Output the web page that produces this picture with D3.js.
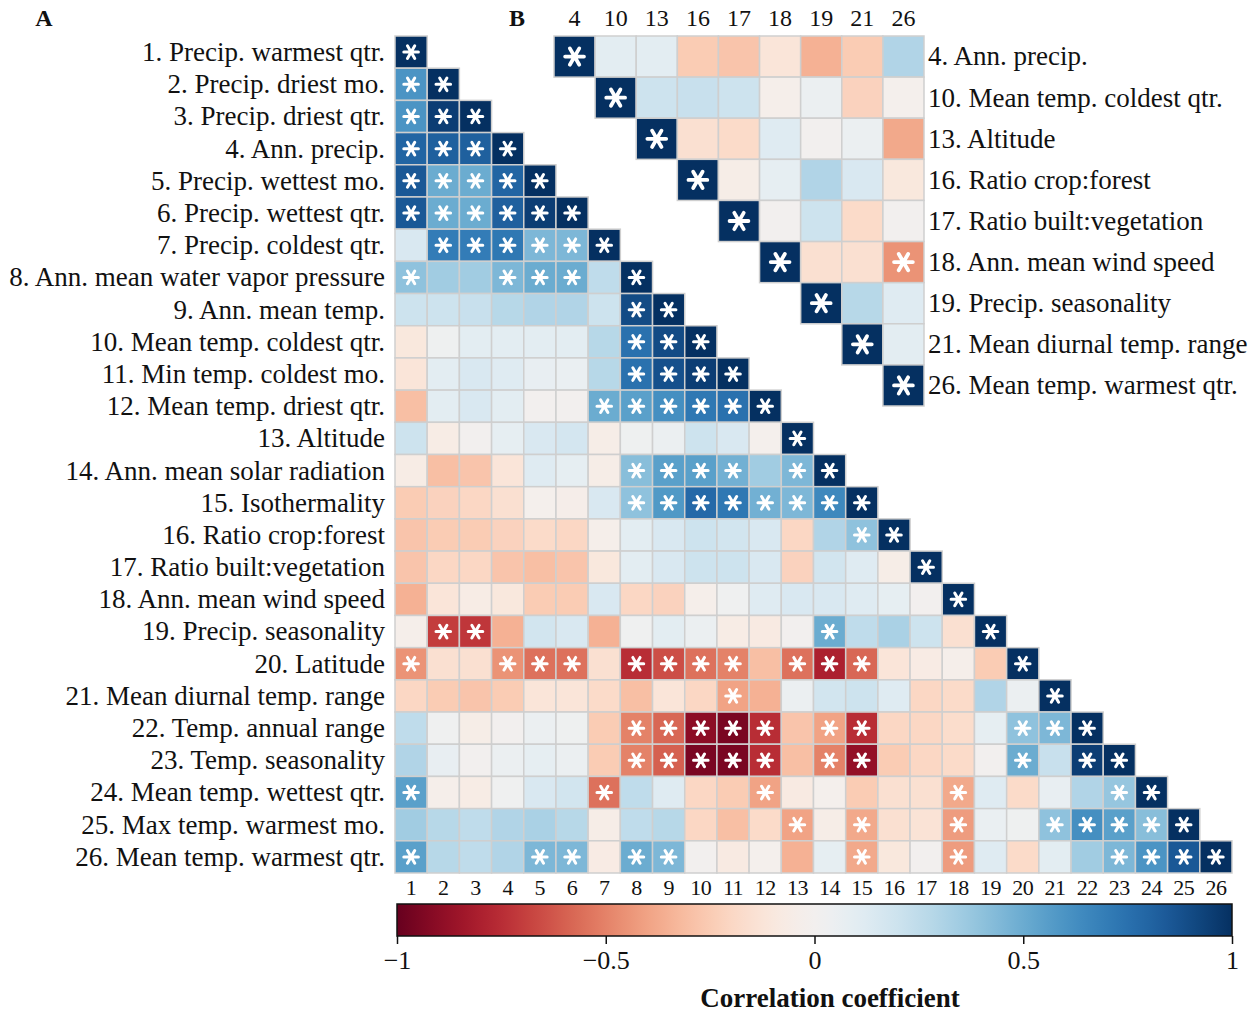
<!DOCTYPE html>
<html>
<head>
<meta charset="utf-8">
<title>Correlation heatmap</title>
<script src="https://cdnjs.cloudflare.com/ajax/libs/d3/7.8.5/d3.min.js"></script>
<style>
    body { margin: 0; background: #fff; }
    text { font-family: "Liberation Serif", "DejaVu Serif", serif; fill: #111; }
    .star { fill: none; stroke: #fff; stroke-linecap: round; }
    .cell { stroke: #cfcfcf; stroke-width: 1.5px; }
</style>
</head>
<body>
<svg id="chart"></svg>
<script>
    const width = 1256;
    const height = 1017;

    // variable names, panel A (1..26)
    const varNames = [
        "Precip. warmest qtr.", "Precip. driest mo.", "Precip. driest qtr.", "Ann. precip.",
        "Precip. wettest mo.", "Precip. wettest qtr.", "Precip. coldest qtr.",
        "Ann. mean water vapor pressure", "Ann. mean temp.", "Mean temp. coldest qtr.",
        "Min temp. coldest mo.", "Mean temp. driest qtr.", "Altitude", "Ann. mean solar radiation",
        "Isothermality", "Ratio crop:forest", "Ratio built:vegetation", "Ann. mean wind speed",
        "Precip. seasonality", "Latitude", "Mean diurnal temp. range", "Temp. annual range",
        "Temp. seasonality", "Mean temp. wettest qtr.", "Max temp. warmest mo.", "Mean temp. warmest qtr."
    ];

    // lower triangle of panel A, row r holds columns 1..r-1 (diagonal = 1)
    const corrA = [
        [],
        [0.6],
        [0.6, 0.95],
        [0.8, 0.82, 0.82],
        [0.85, 0.5, 0.5, 0.8],
        [0.85, 0.5, 0.5, 0.82, 0.95],
        [0.15, 0.7, 0.7, 0.72, 0.45, 0.45],
        [0.4, 0.35, 0.35, 0.45, 0.5, 0.5, 0.25],
        [0.2, 0.2, 0.22, 0.28, 0.3, 0.3, 0.2, 0.9],
        [-0.1, 0.03, 0.1, 0.1, 0.1, 0.1, 0.28, 0.75, 0.9],
        [-0.12, 0.1, 0.15, 0.12, 0.07, 0.06, 0.28, 0.75, 0.88, 0.95],
        [-0.3, 0.1, 0.15, 0.1, 0.0, 0.0, 0.5, 0.55, 0.62, 0.72, 0.75],
        [0.2, -0.06, 0.0, 0.08, 0.15, 0.17, -0.05, 0.03, 0.05, 0.2, 0.15, -0.02],
        [-0.06, -0.3, -0.28, -0.12, 0.12, 0.08, -0.05, 0.42, 0.55, 0.55, 0.48, 0.35, 0.45],
        [-0.25, -0.22, -0.2, -0.15, -0.02, -0.04, 0.15, 0.4, 0.58, 0.78, 0.72, 0.48, 0.45, 0.65],
        [-0.28, -0.25, -0.25, -0.22, -0.18, -0.2, -0.03, 0.1, 0.15, 0.2, 0.18, 0.15, -0.2, 0.3, 0.4],
        [-0.28, -0.2, -0.2, -0.28, -0.3, -0.28, -0.1, 0.1, 0.15, 0.2, 0.2, 0.15, -0.22, 0.18, 0.12, -0.05],
        [-0.35, -0.12, -0.06, -0.1, -0.25, -0.25, 0.15, -0.2, -0.22, -0.03, 0.02, 0.12, 0.15, 0.15, 0.12, 0.08, 0.0],
        [-0.03, -0.7, -0.72, -0.35, 0.18, 0.15, -0.35, 0.02, 0.1, 0.05, -0.06, -0.08, 0.0, 0.5, 0.25, 0.32, 0.2, -0.15],
        [-0.45, -0.15, -0.15, -0.45, -0.55, -0.55, -0.15, -0.75, -0.65, -0.55, -0.5, -0.3, -0.55, -0.8, -0.58, -0.12, -0.07, -0.03, -0.25],
        [-0.2, -0.25, -0.28, -0.25, -0.12, -0.12, -0.18, -0.3, -0.12, -0.2, -0.4, -0.35, 0.05, 0.18, 0.2, 0.12, -0.2, -0.18, 0.3, 0.05],
        [0.25, 0.02, -0.05, 0.0, 0.05, 0.03, -0.25, -0.5, -0.58, -0.9, -0.95, -0.75, -0.28, -0.4, -0.75, -0.2, -0.2, -0.17, 0.08, 0.4, 0.45],
        [0.3, 0.07, 0.0, 0.05, 0.08, 0.05, -0.25, -0.5, -0.6, -0.95, -0.95, -0.75, -0.3, -0.5, -0.88, -0.25, -0.2, -0.18, 0.0, 0.5, 0.22, 0.95],
        [0.55, -0.03, -0.06, 0.02, 0.15, 0.18, -0.55, 0.25, 0.12, -0.2, -0.25, -0.4, -0.08, -0.02, -0.25, -0.15, -0.15, -0.38, 0.12, -0.18, 0.07, 0.3, 0.38],
        [0.35, 0.28, 0.25, 0.3, 0.32, 0.28, -0.05, 0.25, 0.28, -0.2, -0.3, -0.18, -0.4, -0.05, -0.38, -0.15, -0.13, -0.42, 0.06, 0.03, 0.4, 0.62, 0.55, 0.42],
        [0.55, 0.28, 0.25, 0.3, 0.45, 0.45, -0.07, 0.5, 0.45, 0.0, -0.08, -0.02, -0.35, 0.08, -0.38, -0.1, 0.0, -0.42, 0.12, -0.18, 0.1, 0.35, 0.45, 0.6, 0.85]
    ];

    // significant columns per row, panel A (diagonal always significant)
    const sigA = [
        [], [1], [1, 2], [1, 2, 3], [1, 2, 3, 4], [1, 2, 3, 4, 5], [2, 3, 4, 5, 6], [1, 4, 5, 6],
        [8], [8, 9], [8, 9, 10], [7, 8, 9, 10, 11], [], [8, 9, 10, 11, 13],
        [8, 9, 10, 11, 12, 13, 14], [15], [], [], [2, 3, 14],
        [1, 4, 5, 6, 8, 9, 10, 11, 13, 14, 15], [11],
        [8, 9, 10, 11, 12, 14, 15, 20, 21], [8, 9, 10, 11, 12, 14, 15, 20, 22],
        [1, 7, 12, 18, 23], [13, 15, 18, 21, 22, 23, 24], [1, 5, 6, 8, 9, 15, 18, 23, 24, 25]
    ];

    // panel B: selected variables, upper triangle (columns after the diagonal)
    const varsB = [4, 10, 13, 16, 17, 18, 19, 21, 26];
    const corrB = [
        [0.1, 0.1, -0.25, -0.28, -0.12, -0.35, -0.25, 0.3],
        [0.2, 0.22, 0.2, -0.03, 0.05, -0.22, -0.02],
        [-0.15, -0.18, 0.12, 0.0, 0.05, -0.38],
        [-0.05, 0.08, 0.3, 0.15, -0.1],
        [0.0, 0.2, -0.18, 0.0],
        [-0.15, -0.15, -0.45],
        [0.28, 0.12],
        [0.1],
        []
    ];
    const sigB = [[18, 26]];

    const colorTicks = [-1, -0.5, 0, 0.5, 1];

    const color = v => d3.interpolateRdBu((v + 1) / 2);

    const svg = d3.select("#chart")
        .attr("width", width)
        .attr("height", height);

    // asterisk marks for significant cells
    const starPathA = d3.symbol(d3.symbolAsterisk, 150)();
    const starPathB = d3.symbol(d3.symbolAsterisk, 250)();

    // ---------- panel A ----------
    const ids = d3.range(1, 27);
    const xA = d3.scaleBand().domain(ids).range([395, 1232]);
    const yA = d3.scaleBand().domain(ids).range([36, 873]);

    const cellsA = [];
    corrA.forEach((row, i) => {
        const r = i + 1;
        row.forEach((v, j) => {
            cellsA.push({ r, c: j + 1, v, sig: sigA[i].includes(j + 1) });
        });
        cellsA.push({ r, c: r, v: 1, sig: true });
    });

    const gA = svg.append("g");
    gA.selectAll("rect")
        .data(cellsA)
        .join("rect")
        .attr("class", "cell")
        .attr("x", d => xA(d.c))
        .attr("y", d => yA(d.r))
        .attr("width", xA.bandwidth())
        .attr("height", yA.bandwidth())
        .attr("fill", d => color(d.v));

    gA.selectAll("path.star")
        .data(cellsA.filter(d => d.sig))
        .join("path")
        .attr("class", "star")
        .attr("d", starPathA)
        .attr("stroke-width", 3)
        .attr("transform", d => `translate(${xA(d.c) + xA.bandwidth() / 2},${yA(d.r) + yA.bandwidth() / 2}) rotate(90)`);

    // row labels
    gA.selectAll("text.rowlab")
        .data(ids)
        .join("text")
        .attr("class", "rowlab")
        .attr("x", 385)
        .attr("y", d => yA(d) + yA.bandwidth() / 2)
        .attr("dy", "0.33em")
        .attr("text-anchor", "end")
        .style("font-size", "27px")
        .text(d => `${d}. ${varNames[d - 1]}`);

    // column labels
    gA.selectAll("text.collab")
        .data(ids)
        .join("text")
        .attr("class", "collab")
        .attr("x", d => xA(d) + xA.bandwidth() / 2)
        .attr("y", 895)
        .attr("text-anchor", "middle")
        .style("font-size", "22px")
        .style("letter-spacing", "-0.5px")
        .text(d => d);

    // ---------- panel B ----------
    const xB = d3.scaleBand().domain(varsB).range([554, 924]);
    const yB = d3.scaleBand().domain(varsB).range([36, 406]);

    const cellsB = [];
    corrB.forEach((row, i) => {
        const r = varsB[i];
        cellsB.push({ r, c: r, v: 1, sig: true });
        row.forEach((v, j) => {
            const c = varsB[i + 1 + j];
            cellsB.push({ r, c, v, sig: sigB.some(s => s[0] === r && s[1] === c) });
        });
    });

    const gB = svg.append("g");
    gB.selectAll("rect")
        .data(cellsB)
        .join("rect")
        .attr("class", "cell")
        .attr("x", d => xB(d.c))
        .attr("y", d => yB(d.r))
        .attr("width", xB.bandwidth())
        .attr("height", yB.bandwidth())
        .attr("fill", d => color(d.v));

    gB.selectAll("path.star")
        .data(cellsB.filter(d => d.sig))
        .join("path")
        .attr("class", "star")
        .attr("d", starPathB)
        .attr("stroke-width", 3.8)
        .attr("transform", d => `translate(${xB(d.c) + xB.bandwidth() / 2},${yB(d.r) + yB.bandwidth() / 2}) rotate(90)`);

    gB.selectAll("text.rowlab")
        .data(varsB)
        .join("text")
        .attr("class", "rowlab")
        .attr("x", 928)
        .attr("y", d => yB(d) + yB.bandwidth() / 2)
        .attr("dy", "0.33em")
        .style("font-size", "27px")
        .text(d => `${d}. ${varNames[d - 1]}`);

    gB.selectAll("text.collab")
        .data(varsB)
        .join("text")
        .attr("class", "collab")
        .attr("x", d => xB(d) + xB.bandwidth() / 2)
        .attr("y", 26)
        .attr("text-anchor", "middle")
        .style("font-size", "24px")
        .text(d => d);

    // panel letters
    svg.append("text").attr("x", 44).attr("y", 26).attr("text-anchor", "middle")
        .style("font-size", "24px").style("font-weight", "bold").text("A");
    svg.append("text").attr("x", 517).attr("y", 26).attr("text-anchor", "middle")
        .style("font-size", "24px").style("font-weight", "bold").text("B");

    // ---------- colour bar ----------
    const xC = d3.scaleLinear().domain([-1, 1]).range([397, 1232]);
    const grad = svg.append("defs").append("linearGradient")
        .attr("id", "cbar")
        .attr("x1", "0%").attr("x2", "100%");
    grad.selectAll("stop")
        .data(d3.range(0, 1.0001, 0.02))
        .join("stop")
        .attr("offset", d => (d * 100) + "%")
        .attr("stop-color", d => d3.interpolateRdBu(d));

    svg.append("rect")
        .attr("x", xC(-1))
        .attr("y", 904)
        .attr("width", xC(1) - xC(-1))
        .attr("height", 32)
        .attr("fill", "url(#cbar)")
        .attr("stroke", "#111")
        .attr("stroke-width", 1.5);

    const axisC = svg.append("g")
        .attr("transform", "translate(0,936)")
        .call(d3.axisBottom(xC).tickValues(colorTicks).tickSize(8).tickPadding(7)
            .tickFormat(d3.format("")));
    axisC.select(".domain").remove();
    axisC.selectAll("line").attr("stroke", "#111").attr("stroke-width", 1.5);
    axisC.selectAll("text")
        .style("font-family", "'Liberation Serif', serif")
        .style("font-size", "26px")
        .attr("fill", "#111");

    svg.append("text")
        .attr("x", 830)
        .attr("y", 1007)
        .attr("text-anchor", "middle")
        .style("font-size", "27px")
        .style("font-weight", "bold")
        .text("Correlation coefficient");
</script>
</body>
</html>
